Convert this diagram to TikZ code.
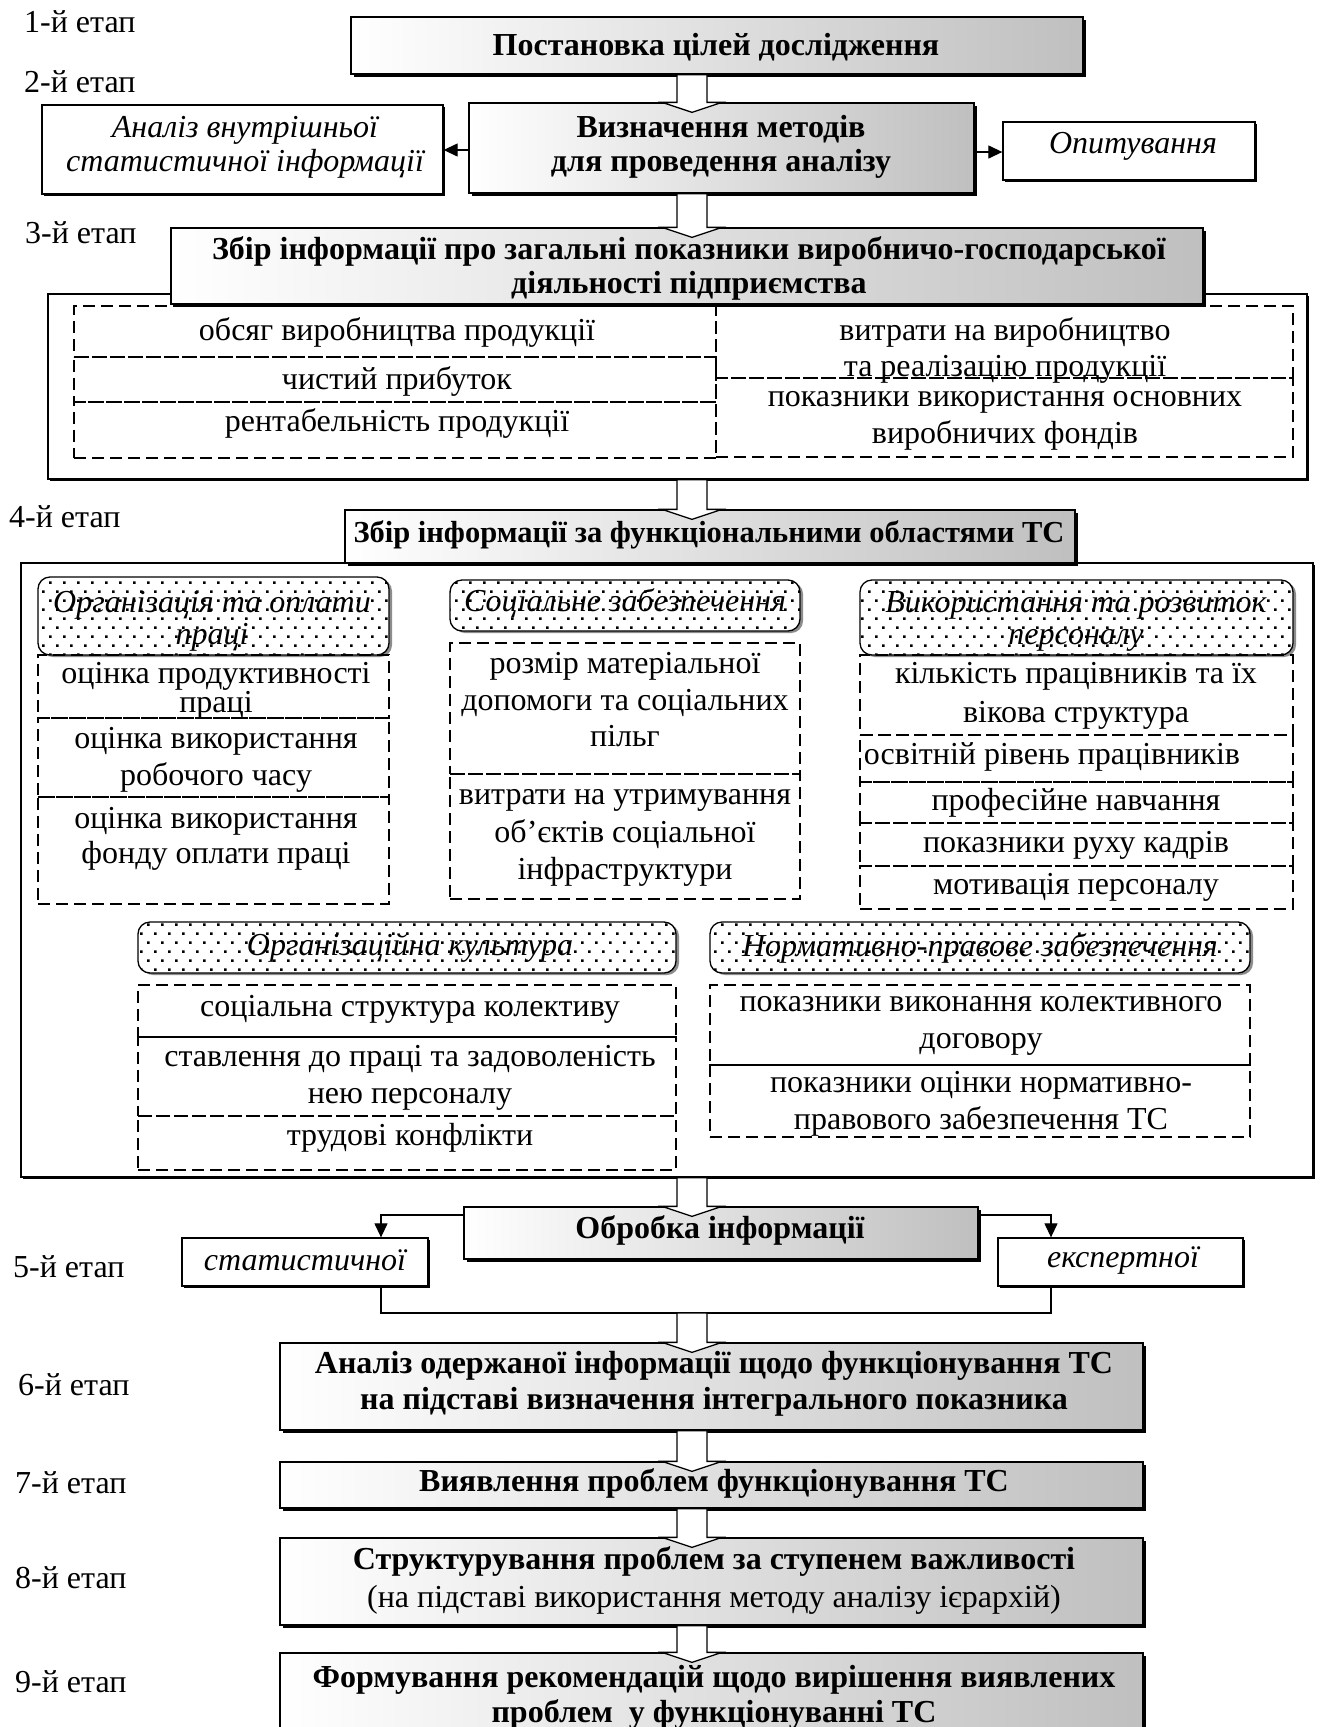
\documentclass[tikz,border=0pt]{standalone}
\usepackage{fontspec}
\setmainfont{Liberation Serif}
\usetikzlibrary{fit,shadows,patterns,calc,arrows.meta}
\pgfdeclarepatternformonly{sparsedots}{\pgfpoint{-1pt}{-1pt}}{\pgfpoint{15pt}{19pt}}{\pgfpoint{14pt}{18pt}}{%
  \pgfpathrectangle{\pgfpoint{0pt}{0pt}}{\pgfpoint{2.6pt}{2.6pt}}%
  \pgfpathrectangle{\pgfpoint{7pt}{9pt}}{\pgfpoint{2.6pt}{2.6pt}}%
  \pgfusepath{fill}}
\newcommand{\tightls}{\lineskiplimit=-60pt\relax}
\newcommand{\blockarrow}[2]{%
  \draw[barrow] let \p1=(#1), \p2=(#2) in
    (677pt,\y1) -- (677pt,\y2) -- (662pt,\y2) -- (692pt,\y2-10pt) -- (722pt,\y2)
    -- (707pt,\y2) -- (707pt,\y1) -- cycle;}
\begin{document}
\begin{tikzpicture}[x=1pt,y=-1pt,
  txt/.style={font={\fontsize{32}{#1}\selectfont\tightls}, align=center, inner sep=0pt},
  txt/.default=36,
  bt/.style={font={\fontsize{32}{#1}\selectfont\tightls\bfseries}, align=center, inner sep=0pt},
  bt/.default=36,
  it/.style={font={\fontsize{32}{#1}\selectfont\tightls\itshape}, align=center, inner sep=0pt},
  it/.default=36,
  bx/.style={inner sep=0pt, line width=1.3pt},
  gbox/.style={bx, draw, left color=white, right color=black!25,
    drop shadow={shadow xshift=2.5pt, shadow yshift=-2.5pt, fill=black, opacity=1}},
  wbox/.style={bx, draw, fill=white,
    drop shadow={shadow xshift=2pt, shadow yshift=-2pt, fill=black, opacity=1}},
  hbox/.style={bx, draw, rounded corners=12pt,
    drop shadow={shadow xshift=3pt, shadow yshift=-2pt, fill=black!45, opacity=1},
    preaction={fill=white}, pattern=sparsedots},
  dbox/.style={bx, draw, dash pattern=on 12pt off 6pt},
  sarrow/.style={line width=1.2pt, -{Triangle[length=14pt,width=13pt]}},
  conn/.style={line width=1.2pt},
  barrow/.style={draw, fill=white, line width=1.3pt, line join=miter},
]
\useasboundingbox (0,0) rectangle (1320,1727);
\fill[white] (0,0) rectangle (1320,1727);

% stage labels
\node[txt,anchor=west] (s1) at (24,22) {1-й етап};
\node[txt,anchor=west] (s2) at (24,82) {2-й етап};
\node[txt,anchor=west] (s3) at (25,233) {3-й етап};
\node[txt,anchor=west] (s4) at (9,517) {4-й етап};
\node[txt,anchor=west] (s5) at (13,1267) {5-й етап};
\node[txt,anchor=west] (s6) at (18,1385) {6-й етап};
\node[txt,anchor=west] (s7) at (15,1483) {7-й етап};
\node[txt,anchor=west] (s8) at (15,1578) {8-й етап};
\node[txt,anchor=west] (s9) at (15,1682) {9-й етап};

% stage 1, 2
\node[gbox, fit={(351,17) (1083,74)}] (b1) {};
\node[bt] (b1t) at (716,47) {Постановка цілей дослідження};
\node[gbox, fit={(469,103) (974,193)}] (b2) {};
\node[bt=34] (b2t) at (721,147) {Визначення методів\\для проведення аналізу};
\node[wbox, fit={(42,105) (443,194)}] (lb) {};
\node[it=34] (lbt) at (245,147) {Аналіз внутрішньої\\статистичної інформації};
\node[wbox, fit={(1003,122) (1255,180)}] (rb) {};
\node[it] (rbt) at (1133,146) {Опитування};
\draw[sarrow] (b2.west |- 0,150) -- (lb.east |- 0,150);
\draw[sarrow] (b2.east |- 0,152) -- (rb.west |- 0,152);

% stage 3
\node[wbox, fit={(48,294) (1307,479)}] (c3) {};
\node[dbox, fit={(74,306) (716,357)}] (r31) {};
\node[dbox, fit={(74,357) (716,402)}] (r32) {};
\node[dbox, fit={(74,402) (716,458)}] (r33) {};
\node[dbox, fit={(716,306) (1293,378)}] (r34) {};
\node[dbox, fit={(716,378) (1293,457)}] (r35) {};
\node[txt] (r31t) at (397,332) {обсяг виробництва продукції};
\node[txt] (r32t) at (397,381) {чистий прибуток};
\node[txt] (r33t) at (397,423) {рентабельність продукції};
\node[txt] (r34t) at (1005,350) {витрати на виробництво\\та реалізацію продукції};
\node[txt=37] (r35t) at (1005,421) {показники використання основних\\виробничих фондів};
\node[gbox, fit={(171,228) (1203,304)}] (b3) {};
\node[bt=34] (b3t) at (689,268) {Збір інформації про загальні показники виробничо-господарської\\діяльності підприємства};

% stage 4
\node[wbox, fit={(21,563) (1313,1177)}] (c4) {};
\node[gbox, fit={(345,510) (1075,563)}] (b4) {};
\node[bt, font={\fontsize{30.5}{36}\selectfont\bfseries}] (b4t) at (709,535) {Збір інформації за функціональними областями ТС};

% group 1
\node[hbox, fit={(38,577) (389,655)}] (h1) {};
\node[it=32] (h1t) at (212,621) {Організація та оплати\\праці};
\node[dbox, fit={(38,655) (389,718)}] (g11) {};
\node[dbox, fit={(38,718) (389,797)}] (g12) {};
\node[dbox, fit={(38,797) (389,904)}] (g13) {};
\node[txt=29] (g11t) at (216,691) {оцінка продуктивності\\праці};
\node[txt=37] (g12t) at (216,760) {оцінка використання\\робочого часу};
\node[txt=35] (g13t) at (216,839) {оцінка використання\\фонду оплати праці};

% group 2
\node[hbox, fit={(450,580) (800,631)}] (h2) {};
\node[it] (h2t) at (625,603) {Соціальне забезпечення};
\node[dbox, fit={(450,643) (800,774)}] (g21) {};
\node[dbox, fit={(450,774) (800,899)}] (g22) {};
\node[txt=36.5] (g21t) at (625,700) {розмір матеріальної\\допомоги та соціальних\\пільг};
\node[txt=37.5] (g22t) at (625,838) {витрати на утримування\\об’єктів соціальної\\інфраструктури};

% group 3
\node[hbox, fit={(860,580) (1293,655)}] (h3) {};
\node[it=32] (h3t) at (1076,621) {Використання та розвиток\\персоналу};
\node[dbox, fit={(860,655) (1293,735)}] (g31) {};
\node[dbox, fit={(860,735) (1293,782)}] (g32) {};
\node[dbox, fit={(860,782) (1293,823)}] (g33) {};
\node[dbox, fit={(860,823) (1293,866)}] (g34) {};
\node[dbox, fit={(860,866) (1293,909)}] (g35) {};
\node[txt=39] (g31t) at (1076,696) {кількість працівників та їх\\вікова структура};
\node[txt] (g32t) at (1052,757) {освітній рівень працівників};
\node[txt] (g33t) at (1076,803) {професійне навчання};
\node[txt] (g34t) at (1076,845) {показники руху кадрів};
\node[txt] (g35t) at (1076,887) {мотивація персоналу};

% group 4
\node[hbox, fit={(138,922) (676,973)}] (h4) {};
\node[it] (h4t) at (410,948) {Організаційна культура};
\node[dbox, fit={(138,985) (676,1037)}] (g41) {};
\node[dbox, fit={(138,1037) (676,1116)}] (g42) {};
\node[dbox, fit={(138,1116) (676,1170)}] (g43) {};
\node[txt] (g41t) at (410,1009) {соціальна структура колективу};
\node[txt=37] (g42t) at (410,1078) {ставлення до праці та задоволеність\\нею персоналу};
\node[txt] (g43t) at (410,1138) {трудові конфлікти};

% group 5
\node[hbox, fit={(710,922) (1250,973)}] (h5) {};
\node[it] (h5t) at (980,948) {Нормативно-правове забезпечення};
\node[dbox, fit={(710,985) (1250,1065)}] (g51) {};
\node[dbox, fit={(710,1065) (1250,1137)}] (g52) {};
\node[txt=37] (g51t) at (981,1026) {показники виконання колективного\\договору};
\node[txt=37] (g52t) at (981,1104) {показники оцінки нормативно-\\правового забезпечення ТС};

% stage 5
\node[gbox, fit={(464,1207) (978,1259)}] (b5) {};
\node[bt] (b5t) at (720,1230) {Обробка інформації};
\node[wbox, fit={(182,1238) (428,1286)}] (st) {};
\node[it] (stt) at (305,1260) {статистичної};
\node[wbox, fit={(998,1238) (1243,1286)}] (ex) {};
\node[it] (ext) at (1123,1260) {експертної};
\draw[sarrow] (b5.west |- 0,1215) -| (st.north -| 381,0);
\draw[sarrow] (b5.east |- 0,1215) -| (ex.north -| 1051,0);
\coordinate (jn) at (692,1313);
\draw[conn] (st.south -| 381,0) |- (jn) -| (ex.south -| 1051,0);

% stages 6-9
\node[gbox, fit={(280,1343) (1143,1430)}] (b6) {};
\node[bt] (b6t) at (714,1384) {Аналіз одержаної інформації щодо функціонування ТС\\на підставі визначення інтегрального показника};
\node[gbox, fit={(280,1462) (1143,1508)}] (b7) {};
\node[bt] (b7t) at (714,1483) {Виявлення проблем функціонування ТС};
\node[gbox, fit={(280,1538) (1143,1625)}] (b8) {};
\node[txt=38] (b8t) at (714,1580) {\textbf{Структурування проблем за ступенем важливості}\\(на підставі використання методу аналізу ієрархій)};
\node[gbox, fit={(280,1653) (1143,1745)}] (b9) {};
\node[bt=35] (b9t) at (714,1697) {Формування рекомендацій щодо вирішення виявлених\\проблем~~у функціонуванні ТС};

% block arrows
\blockarrow{b1.south}{b2.north}
\blockarrow{b2.south}{b3.north}
\blockarrow{c3.south}{b4.north}
\blockarrow{c4.south}{b5.north}
\blockarrow{jn}{b6.north}
\blockarrow{b6.south}{b7.north}
\blockarrow{b7.south}{b8.north}
\blockarrow{b8.south}{b9.north}
\end{tikzpicture}
\end{document}
